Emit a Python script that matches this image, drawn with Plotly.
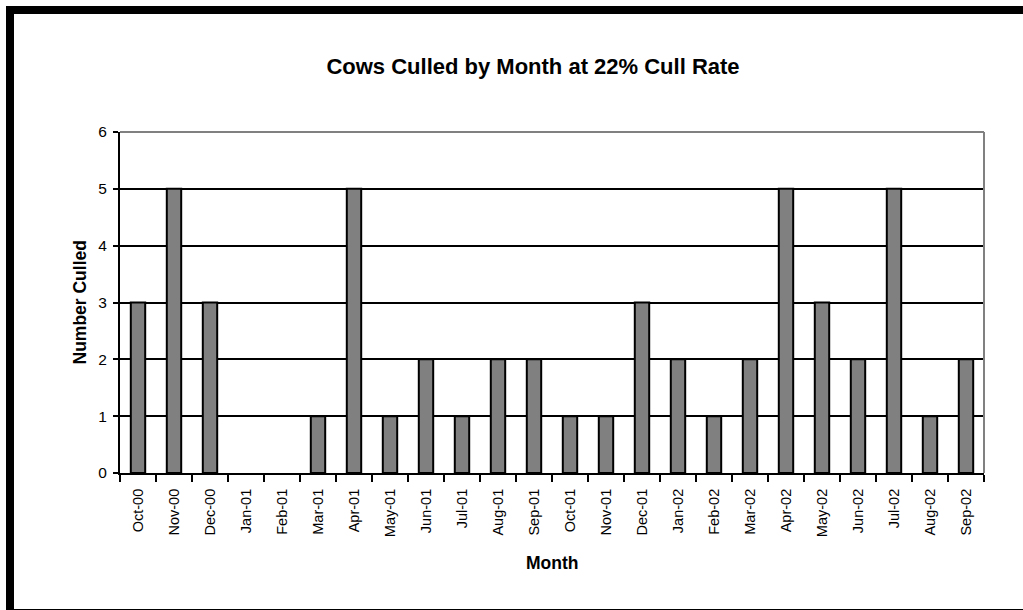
import plotly.graph_objects as go

months = ["Oct-00", "Nov-00", "Dec-00", "Jan-01", "Feb-01", "Mar-01", "Apr-01", "May-01",
          "Jun-01", "Jul-01", "Aug-01", "Sep-01", "Oct-01", "Nov-01", "Dec-01", "Jan-02",
          "Feb-02", "Mar-02", "Apr-02", "May-02", "Jun-02", "Jul-02", "Aug-02", "Sep-02"]
culled = [3, 5, 3, 0, 0, 1, 5, 1, 2, 1, 2, 2, 1, 1, 3, 2, 1, 2, 5, 3, 2, 5, 1, 2]
y_ticks = [0, 1, 2, 3, 4, 5, 6]

W, H = 1023, 610
L, R, T, B = 120, 39, 132, 137
pw, ph = W - L - R, H - T - B

def px(x):
    return (x - L) / pw

def py(y):
    return (H - B - y) / ph

FONT = "Arial, Liberation Sans, sans-serif"

fig = go.Figure()
fig.add_trace(go.Bar(
    x=months, y=culled,
    marker=dict(color="#808080",
                line=dict(color="black", width=[2 if v > 0 else 0 for v in culled])),
    width=0.4,
))

fig.update_layout(
    width=W, height=H,
    margin=dict(l=L, r=R, t=T, b=B, pad=0),
    paper_bgcolor="white", plot_bgcolor="white",
    font=dict(family=FONT, color="black", size=14),
    showlegend=False,
    title=dict(text="<b>Cows Culled by Month at 22% Cull Rate</b>",
               x=533 / W, xanchor="center", xref="container",
               y=1 - 66 / H, yanchor="middle", yref="container",
               font=dict(size=22, family=FONT, color="black")),
    xaxis=dict(
        type="category", tickangle=-90, ticks="outside", tickson="boundaries",
        ticklen=7, tickwidth=2, tickcolor="black", ticklabelstandoff=8,
        showline=True, linecolor="black", linewidth=2,
        showgrid=False, tickfont=dict(size=14.5, family=FONT), range=[-0.5, 23.5],
    ),
    yaxis=dict(
        range=[0, 6], tickvals=y_ticks, ticks="outside", ticklen=5, tickwidth=2,
        tickcolor="black", showline=True, linecolor="black", linewidth=2,
        showgrid=True, gridcolor="black", gridwidth=2, zeroline=False,
        tickfont=dict(size=15.5, family=FONT), ticklabelstandoff=3,
    ),
    annotations=[
        dict(text="<b>Number Culled</b>", xref="paper", yref="paper",
             x=px(79), y=0.5, textangle=-90, showarrow=False,
             xanchor="center", yanchor="middle", font=dict(size=17.5, family=FONT)),
        dict(text="<b>Month</b>", xref="paper", yref="paper",
             x=px(552), y=py(563), showarrow=False,
             xanchor="center", yanchor="middle", font=dict(size=17.5, family=FONT)),
    ],
    shapes=[
        dict(type="line", xref="paper", yref="paper", x0=0, x1=1, y0=1, y1=1,
             line=dict(color="#808080", width=2), layer="above"),
        dict(type="line", xref="paper", yref="paper", x0=1, x1=1, y0=0, y1=1,
             line=dict(color="#808080", width=2), layer="above"),
        dict(type="rect", xref="paper", yref="paper",
             x0=px(10), x1=px(1040), y0=py(10), y1=py(613),
             line=dict(color="black", width=8), fillcolor="rgba(0,0,0,0)", layer="above"),
    ],
)

fig.write_html("out.html")
